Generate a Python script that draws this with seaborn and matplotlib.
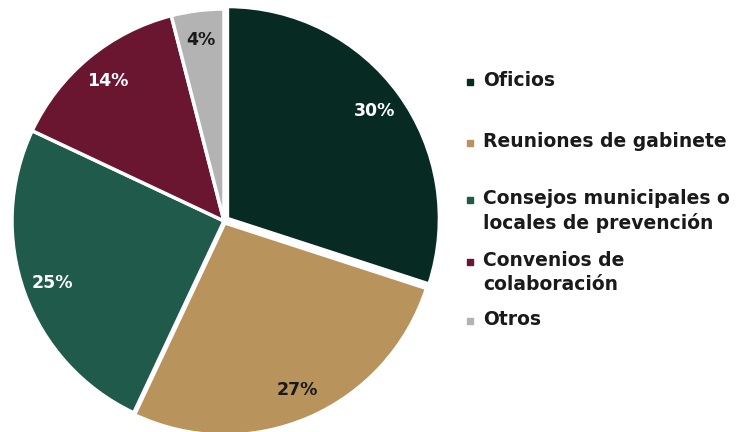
import matplotlib
matplotlib.use("Agg")
import matplotlib.pyplot as plt
import seaborn as sns
from matplotlib.patches import Rectangle

categories = ["Oficios", "Reuniones de gabinete", "Consejos municipales o\nlocales de prevención",
              "Convenios de\ncolaboración", "Otros"]
values = [30, 27, 25, 14, 4]
pct_labels = ["30%", "27%", "25%", "14%", "4%"]
colors = ["#072b23", "#b8935b", "#1f5a4b", "#6a1630", "#b3b3b3"]
label_colors = ["white", "#1a1a1a", "white", "white", "#1a1a1a"]

sns.set_theme(style="white")
plt.rcParams['font.family'] = ['DejaVu Sans']

W, H = 741, 432
fig = plt.figure(figsize=(W / 100, H / 100), dpi=100)
cx, cy, r = 224, 432 - 221, 212
ax = fig.add_axes([(cx - r) / W, (cy - r) / H, 2 * r / W, 2 * r / H])
wedges, texts, autotexts = ax.pie(values, colors=colors, startangle=90, counterclock=False,
                                  labels=None, autopct=lambda p: "", pctdistance=0.86,
                                  explode=[0.02, 0.01, 0, 0, 0],
                                  wedgeprops=dict(edgecolor="white", linewidth=2.5))
for t, lab, c in zip(autotexts, pct_labels, label_colors):
    t.set_text(lab)
    t.set_color(c)
    t.set_fontweight("bold")
    t.set_fontsize(12.5)
ax.set_xlim(-1.0, 1.0)
ax.set_ylim(-1.0, 1.0)
ax.set_aspect("equal")
ax.axis("off")

ys = [82, 143, 200, 262, 321]
for lab, col, y in zip(categories, colors, ys):
    fig.patches.append(Rectangle((467 / W, 1 - (y + 3) / H), 6 / W, 6 / H,
                                 transform=fig.transFigure, color=col, figure=fig))
    fig.text(483 / W, 1 - (y - 11) / H, lab, ha="left", va="top", fontsize=13.5,
             fontweight="bold", color="#1a1a1a", linespacing=1.3)

fig.savefig("out.png", dpi=100, facecolor="white")
